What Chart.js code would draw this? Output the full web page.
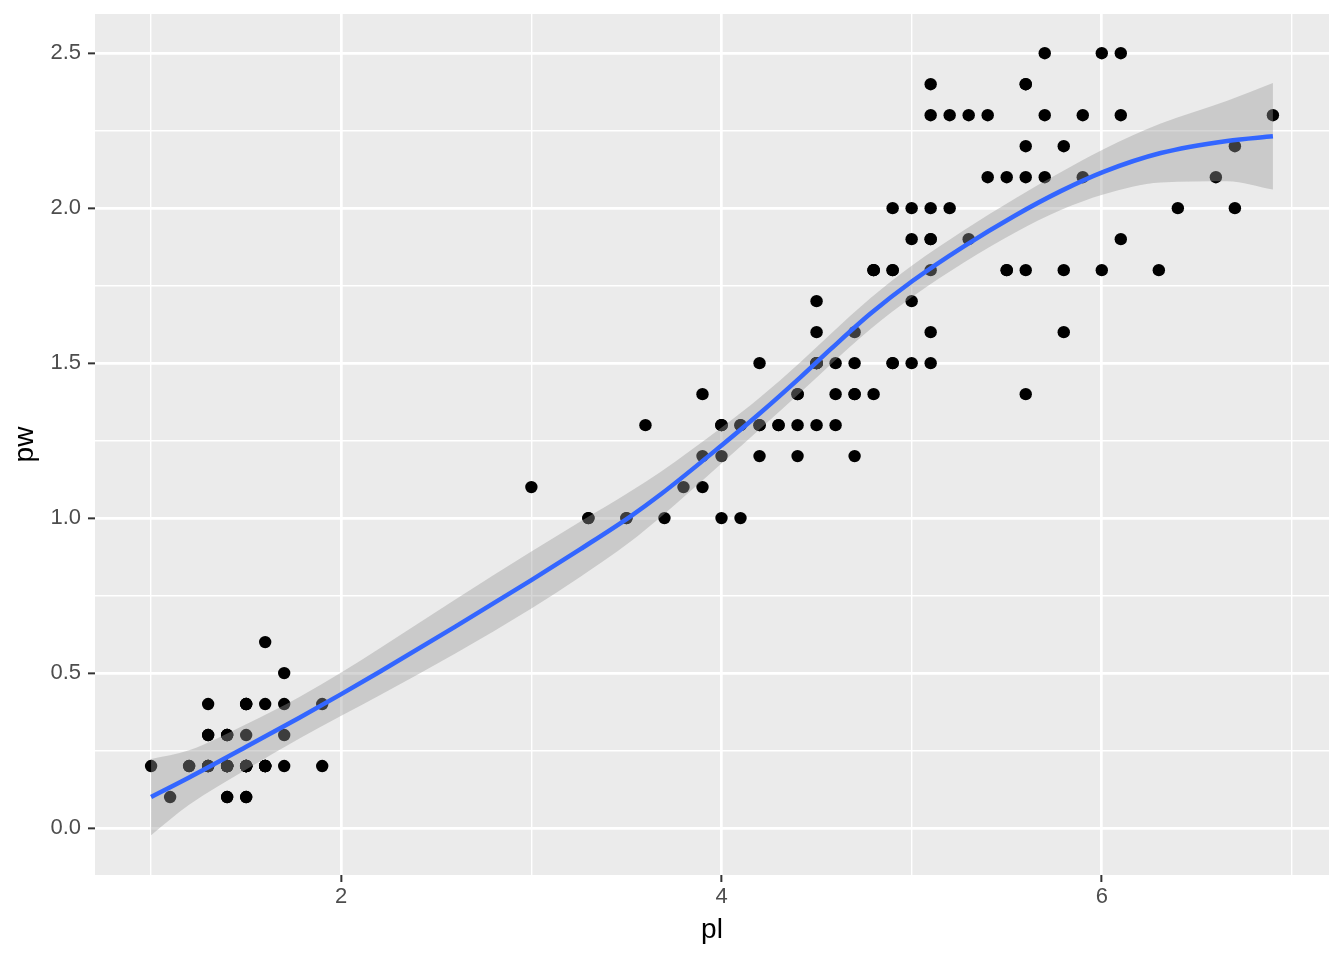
<!DOCTYPE html>
<html><head><meta charset="utf-8">
<script src="https://cdn.jsdelivr.net/npm/chart.js@4"></script>
<style>html,body{margin:0;padding:0;background:#fff}canvas{display:block}</style>
</head><body>
<canvas id="c" width="1344" height="960"></canvas>
<script>
// Observed points (petal length, petal width)
const pl = [1.4,1.4,1.3,1.5,1.4,1.7,1.4,1.5,1.4,1.5,1.5,1.6,1.4,1.1,1.2,1.5,1.3,1.4,1.7,1.5,1.7,1.5,1.0,1.7,1.9,1.6,1.6,1.5,1.4,1.6,1.6,1.5,1.5,1.4,1.5,1.2,1.3,1.4,1.3,1.5,1.3,1.3,1.3,1.6,1.9,1.4,1.6,1.4,1.5,1.4,
4.7,4.5,4.9,4.0,4.6,4.5,4.7,3.3,4.6,3.9,3.5,4.2,4.0,4.7,3.6,4.4,4.5,4.1,4.5,3.9,4.8,4.0,4.9,4.7,4.3,4.4,4.8,5.0,4.5,3.5,3.8,3.7,3.9,5.1,4.5,4.5,4.7,4.4,4.1,4.0,4.4,4.6,4.0,3.3,4.2,4.2,4.2,4.3,3.0,4.1,
6.0,5.1,5.9,5.6,5.8,6.6,4.5,6.3,5.8,6.1,5.1,5.3,5.5,5.0,5.1,5.3,5.5,6.7,6.9,5.0,5.7,4.9,6.7,4.9,5.7,6.0,4.8,4.9,5.6,5.8,6.1,6.4,5.6,5.1,5.6,6.1,5.6,5.5,4.8,5.4,5.6,5.1,5.1,5.9,5.7,5.2,5.0,5.2,5.4,5.1];
const pw = [0.2,0.2,0.2,0.2,0.2,0.4,0.3,0.2,0.2,0.1,0.2,0.2,0.1,0.1,0.2,0.4,0.4,0.3,0.3,0.3,0.2,0.4,0.2,0.5,0.2,0.2,0.4,0.2,0.2,0.2,0.2,0.4,0.1,0.2,0.2,0.2,0.2,0.1,0.2,0.2,0.3,0.3,0.2,0.6,0.4,0.3,0.2,0.2,0.2,0.2,
1.4,1.5,1.5,1.3,1.5,1.3,1.6,1.0,1.3,1.4,1.0,1.5,1.0,1.4,1.3,1.4,1.5,1.0,1.5,1.1,1.8,1.3,1.5,1.2,1.3,1.4,1.4,1.7,1.5,1.0,1.1,1.0,1.2,1.6,1.5,1.6,1.5,1.3,1.3,1.3,1.2,1.4,1.2,1.0,1.3,1.2,1.3,1.3,1.1,1.3,
2.5,1.9,2.1,1.8,2.2,2.1,1.7,1.8,1.8,2.5,2.0,1.9,2.1,2.0,2.4,2.3,1.8,2.2,2.3,1.5,2.3,2.0,2.0,1.8,2.1,1.8,1.8,1.8,2.1,1.6,1.9,2.0,2.2,1.5,1.4,2.3,2.4,1.8,1.8,2.1,2.4,2.3,1.9,2.3,2.5,2.3,1.9,2.0,2.3,1.8];

// Smooth curve and its confidence band
const fitX     = [1.0, 1.2, 1.5, 1.78, 2.0, 2.205, 2.6, 3.0, 3.258, 3.52, 3.679, 3.995, 4.205, 4.416, 4.574, 4.784, 5.004, 5.275, 5.54, 5.784, 6.012, 6.31, 6.66, 6.9];
const fitY     = [0.100, 0.163, 0.262, 0.356, 0.432, 0.505, 0.650, 0.800, 0.900, 1.005, 1.076, 1.232, 1.340, 1.455, 1.545, 1.660, 1.765, 1.877, 1.975, 2.055, 2.118, 2.178, 2.217, 2.232];
const fitLower = [-0.023, 0.075, 0.189, 0.289, 0.362, 0.429, 0.563, 0.708, 0.811, 0.924, 1.003, 1.174, 1.289, 1.406, 1.496, 1.610, 1.714, 1.825, 1.920, 1.994, 2.045, 2.083, 2.087, 2.060];
const fitUpper = [0.223, 0.251, 0.335, 0.423, 0.502, 0.581, 0.737, 0.892, 0.989, 1.086, 1.149, 1.290, 1.391, 1.504, 1.594, 1.710, 1.816, 1.929, 2.030, 2.116, 2.191, 2.273, 2.347, 2.404];

// Axis ticks
const xGrid = [1, 2, 3, 4, 5, 6, 7];
const xMajor = [2, 4, 6];
const xLabels = ['2', '4', '6'];
const yGrid = [0, 0.25, 0.5, 0.75, 1, 1.25, 1.5, 1.75, 2, 2.25, 2.5];
const yMajor = [0, 0.5, 1, 1.5, 2, 2.5];
const yLabels = ['0.0', '0.5', '1.0', '1.5', '2.0', '2.5'];

const FONT = "'Liberation Sans', Arial, Helvetica, sans-serif";
const isMajor = (list, v) => list.some(m => Math.abs(m - v) < 1e-9);

const panelBg = {
  id: 'panelBg',
  beforeDraw(chart) {
    const {ctx, chartArea: a} = chart;
    ctx.save();
    ctx.fillStyle = '#EBEBEB';
    ctx.fillRect(a.left, a.top, a.right - a.left, a.bottom - a.top);
    ctx.restore();
  }
};

const toXY = (xs, ys) => xs.map((x, i) => ({x: x, y: ys[i]}));

new Chart(document.getElementById('c'), {
  type: 'scatter',
  data: {
    datasets: [
      {
        label: 'points', data: toXY(pl, pw), order: 4,
        pointRadius: 6.2, pointBackgroundColor: '#000', pointBorderWidth: 0, borderColor: '#000'
      },
      {
        label: 'lower', data: toXY(fitX, fitLower), order: 3, showLine: true,
        pointRadius: 0, borderWidth: 0, borderColor: 'rgba(0,0,0,0)', fill: false,
        cubicInterpolationMode: 'monotone'
      },
      {
        label: 'upper', data: toXY(fitX, fitUpper), order: 2, showLine: true,
        pointRadius: 0, borderWidth: 0, borderColor: 'rgba(0,0,0,0)',
        fill: '-1', backgroundColor: 'rgba(153,153,153,0.4)',
        cubicInterpolationMode: 'monotone'
      },
      {
        label: 'fit', data: toXY(fitX, fitY), order: 1, showLine: true,
        pointRadius: 0, borderWidth: 4.5, borderColor: '#3366FF', fill: false,
        cubicInterpolationMode: 'monotone'
      }
    ]
  },
  options: {
    responsive: false, animation: false, events: [],
    layout: {padding: {left: 0, top: 14, right: 15, bottom: 0}},
    plugins: {legend: {display: false}, tooltip: {enabled: false}},
    scales: {
      x: {
        type: 'linear', min: 0.705, max: 7.195,
        afterFit(s) { s.height = 85; s.paddingLeft = 0; s.paddingRight = 0; s.paddingTop = 0; s.paddingBottom = 0; },
        afterBuildTicks(s) { s.ticks = xGrid.map(v => ({value: v})); },
        border: {display: false},
        grid: {
          color: '#FFFFFF',
          lineWidth: c => (c.tick && isMajor(xMajor, c.tick.value)) ? 2.7 : 1.4,
          drawTicks: true, tickLength: 7, tickWidth: 2,
          tickColor: c => (c.tick && isMajor(xMajor, c.tick.value)) ? '#333333' : 'rgba(0,0,0,0)'
        },
        ticks: {
          autoSkip: false, maxRotation: 0, padding: 2, color: '#4D4D4D',
          font: {family: FONT, size: 22},
          callback: v => { const i = xMajor.findIndex(m => Math.abs(m - v) < 1e-9); return i >= 0 ? xLabels[i] : ''; }
        },
        title: {display: true, text: 'pl', color: '#000', font: {family: FONT, size: 28}, padding: {top: 0, bottom: 13}}
      },
      y: {
        type: 'linear', min: -0.1515, max: 2.6265,
        afterFit(s) { s.width = 95; s.paddingLeft = 0; s.paddingRight = 0; s.paddingTop = 0; s.paddingBottom = 0; },
        afterBuildTicks(s) { s.ticks = yGrid.map(v => ({value: v})); },
        border: {display: false},
        grid: {
          color: '#FFFFFF',
          lineWidth: c => (c.tick && isMajor(yMajor, c.tick.value)) ? 2.7 : 1.4,
          drawTicks: true, tickLength: 7, tickWidth: 2,
          tickColor: c => (c.tick && isMajor(yMajor, c.tick.value)) ? '#333333' : 'rgba(0,0,0,0)'
        },
        ticks: {
          autoSkip: false, padding: 7, color: '#4D4D4D',
          font: {family: FONT, size: 22},
          callback: v => { const i = yMajor.findIndex(m => Math.abs(m - v) < 1e-9); return i >= 0 ? yLabels[i] : ''; }
        },
        title: {display: true, text: 'pw', color: '#000', font: {family: FONT, size: 28}, padding: {top: 8.4, bottom: 0}}
      }
    }
  },
  plugins: [panelBg]
});
</script>
</body></html>
